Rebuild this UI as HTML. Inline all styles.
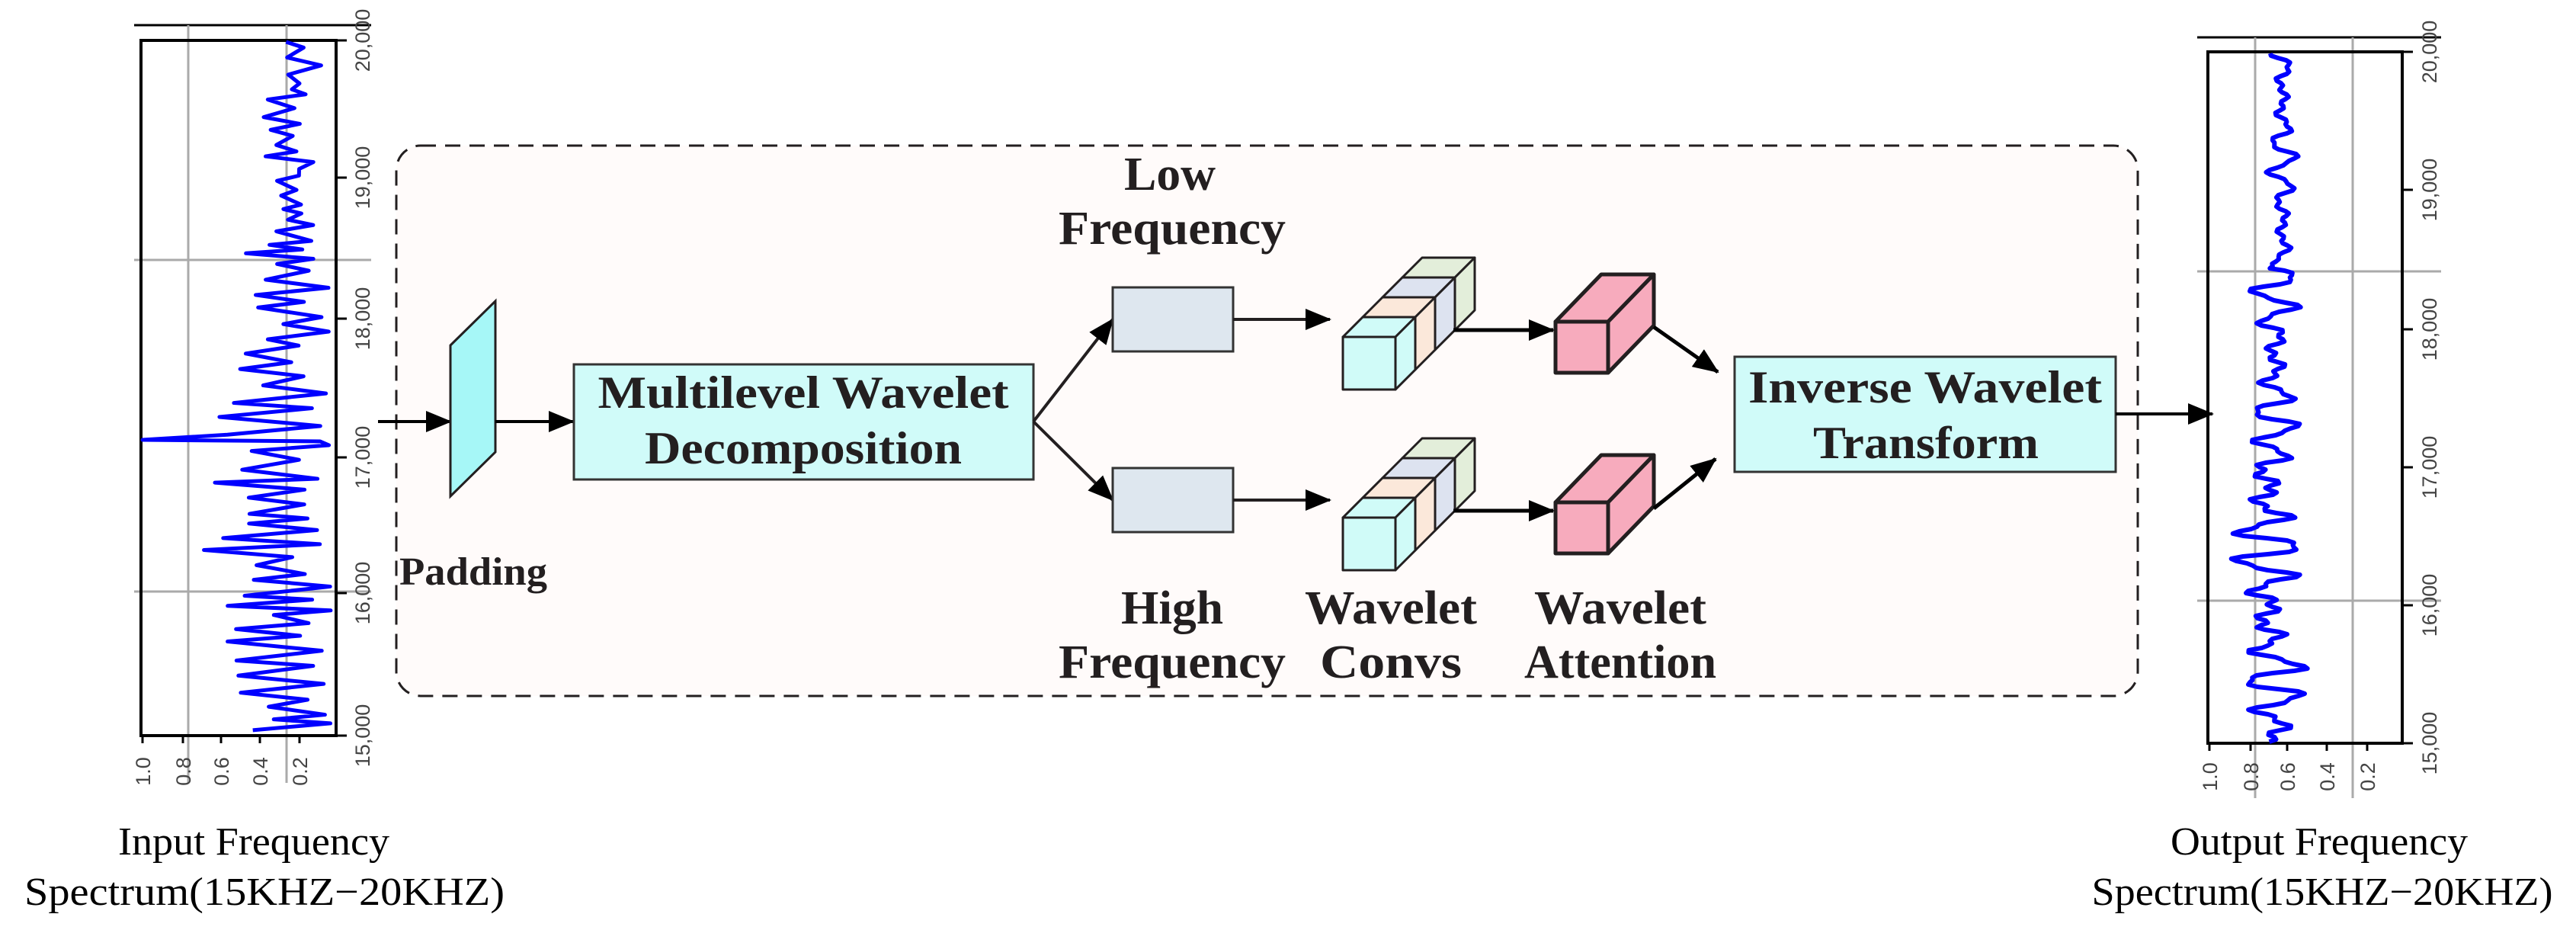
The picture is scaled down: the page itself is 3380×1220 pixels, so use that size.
<!DOCTYPE html>
<html><head><meta charset="utf-8"><style>
html,body{margin:0;padding:0;background:#fff;}
svg{display:block;}
.b{font-family:"Liberation Serif",serif;font-weight:bold;fill:#231f20;}
.r{font-family:"Liberation Serif",serif;fill:#000;}
.t{font-family:"Liberation Sans",sans-serif;fill:#444;font-size:27px;}
</style></head><body>
<svg id="s" width="3380" height="1220" viewBox="0 0 3380 1220" xmlns="http://www.w3.org/2000/svg">
<defs>
<marker id="ah" markerUnits="userSpaceOnUse" markerWidth="34" markerHeight="28" refX="32" refY="14" orient="auto"><path d="M0,0 L34,14 L0,28 Z" fill="#000"/></marker>
</defs>
<rect width="3380" height="1220" fill="#fff"/>
<rect x="520" y="191" width="2285" height="722" rx="32" fill="#fffbfa" stroke="#231f20" stroke-width="3" stroke-dasharray="20,12"/>

<g>
<line x1="176" y1="33" x2="487" y2="33" stroke="#000" stroke-width="3"/>
<line x1="247" y1="33" x2="247" y2="1027" stroke="#aaa" stroke-width="3"/>
<line x1="376" y1="33" x2="376" y2="1027" stroke="#aaa" stroke-width="3"/>
<line x1="176" y1="341" x2="487" y2="341" stroke="#aaa" stroke-width="3"/>
<line x1="176" y1="776" x2="487" y2="776" stroke="#aaa" stroke-width="3"/>
<rect x="185" y="53" width="256" height="912" fill="none" stroke="#000" stroke-width="4"/>
<g stroke="#000" stroke-width="3">
<line x1="441" y1="53" x2="455" y2="53"/><line x1="441" y1="233" x2="455" y2="233"/><line x1="441" y1="418" x2="455" y2="418"/><line x1="441" y1="600" x2="455" y2="600"/><line x1="441" y1="778" x2="455" y2="778"/><line x1="441" y1="965" x2="455" y2="965"/>
<line x1="187" y1="965" x2="187" y2="975"/><line x1="240" y1="965" x2="240" y2="975"/><line x1="290" y1="965" x2="290" y2="975"/><line x1="341" y1="965" x2="341" y2="975"/><line x1="393" y1="965" x2="393" y2="975"/>
</g>
<g class="t">
<text transform="translate(485,53) rotate(-90)" text-anchor="middle">20,000</text>
<text transform="translate(485,233) rotate(-90)" text-anchor="middle">19,000</text>
<text transform="translate(485,418) rotate(-90)" text-anchor="middle">18,000</text>
<text transform="translate(485,600) rotate(-90)" text-anchor="middle">17,000</text>
<text transform="translate(485,778) rotate(-90)" text-anchor="middle">16,000</text>
<text transform="translate(485,965) rotate(-90)" text-anchor="middle">15,000</text>
<text transform="translate(197,1012) rotate(-90)" text-anchor="middle">1.0</text>
<text transform="translate(250,1012) rotate(-90)" text-anchor="middle">0.8</text>
<text transform="translate(300,1012) rotate(-90)" text-anchor="middle">0.6</text>
<text transform="translate(351,1012) rotate(-90)" text-anchor="middle">0.4</text>
<text transform="translate(403,1012) rotate(-90)" text-anchor="middle">0.2</text>
</g>
<polyline id="sigL" fill="none" stroke="#0000ff" stroke-width="5" stroke-linejoin="round"/>
</g>
<text class="r" x="333" y="1121" font-size="52" text-anchor="middle" textLength="356" lengthAdjust="spacingAndGlyphs">Input Frequency</text>
<text class="r" x="347" y="1187" font-size="52" text-anchor="middle" textLength="630" lengthAdjust="spacingAndGlyphs">Spectrum(15KHZ−20KHZ)</text>

<g>
<line x1="2883" y1="49" x2="3203" y2="49" stroke="#000" stroke-width="3"/>
<line x1="2959" y1="49" x2="2959" y2="1047" stroke="#aaa" stroke-width="3"/>
<line x1="3087" y1="49" x2="3087" y2="1047" stroke="#aaa" stroke-width="3"/>
<line x1="2883" y1="356" x2="3203" y2="356" stroke="#aaa" stroke-width="3"/>
<line x1="2883" y1="788" x2="3203" y2="788" stroke="#aaa" stroke-width="3"/>
<rect x="2897" y="68" width="255" height="907" fill="none" stroke="#000" stroke-width="4"/>
<g stroke="#000" stroke-width="3">
<line x1="3152" y1="68" x2="3166" y2="68"/><line x1="3152" y1="249" x2="3166" y2="249"/><line x1="3152" y1="432" x2="3166" y2="432"/><line x1="3152" y1="613" x2="3166" y2="613"/><line x1="3152" y1="794" x2="3166" y2="794"/><line x1="3152" y1="975" x2="3166" y2="975"/>
<line x1="2899" y1="975" x2="2899" y2="985"/><line x1="2953" y1="975" x2="2953" y2="985"/><line x1="3001" y1="975" x2="3001" y2="985"/><line x1="3053" y1="975" x2="3053" y2="985"/><line x1="3106" y1="975" x2="3106" y2="985"/>
</g>
<g class="t">
<text transform="translate(3197,68) rotate(-90)" text-anchor="middle">20,000</text>
<text transform="translate(3197,249) rotate(-90)" text-anchor="middle">19,000</text>
<text transform="translate(3197,432) rotate(-90)" text-anchor="middle">18,000</text>
<text transform="translate(3197,613) rotate(-90)" text-anchor="middle">17,000</text>
<text transform="translate(3197,794) rotate(-90)" text-anchor="middle">16,000</text>
<text transform="translate(3197,975) rotate(-90)" text-anchor="middle">15,000</text>
<text transform="translate(2909,1019) rotate(-90)" text-anchor="middle">1.0</text>
<text transform="translate(2963,1019) rotate(-90)" text-anchor="middle">0.8</text>
<text transform="translate(3011,1019) rotate(-90)" text-anchor="middle">0.6</text>
<text transform="translate(3063,1019) rotate(-90)" text-anchor="middle">0.4</text>
<text transform="translate(3116,1019) rotate(-90)" text-anchor="middle">0.2</text>
</g>
<polyline id="sigR" fill="none" stroke="#0000ff" stroke-width="6" stroke-linejoin="round"/>
</g>
<text class="r" x="3043" y="1121" font-size="52" text-anchor="middle" textLength="390" lengthAdjust="spacingAndGlyphs">Output Frequency</text>
<text class="r" x="3047" y="1187" font-size="52" text-anchor="middle" textLength="605" lengthAdjust="spacingAndGlyphs">Spectrum(15KHZ−20KHZ)</text>

<line x1="496" y1="553" x2="591" y2="553" stroke="#000" stroke-width="4" marker-end="url(#ah)"/>
<polygon points="591,453 650,395 650,593 591,651" fill="#a6f7f7" stroke="#231f20" stroke-width="3"/>
<line x1="650" y1="553" x2="752" y2="553" stroke="#000" stroke-width="4" marker-end="url(#ah)"/>
<text class="b" x="524" y="767" font-size="52" textLength="194" lengthAdjust="spacingAndGlyphs">Padding</text>

<rect x="753" y="478" width="603" height="151" fill="#d0fbf9" stroke="#333" stroke-width="3"/>
<text class="b" x="1054" y="535" font-size="60" text-anchor="middle" textLength="539" lengthAdjust="spacingAndGlyphs">Multilevel Wavelet</text>
<text class="b" x="1054" y="608" font-size="60" text-anchor="middle" textLength="416" lengthAdjust="spacingAndGlyphs">Decomposition</text>

<line x1="1356" y1="553" x2="1460" y2="419" stroke="#231f20" stroke-width="4" marker-end="url(#ah)"/>
<line x1="1356" y1="553" x2="1460" y2="656" stroke="#231f20" stroke-width="4" marker-end="url(#ah)"/>
<rect x="1460" y="377" width="158" height="84" fill="#dee7ef" stroke="#333" stroke-width="3"/>
<rect x="1460" y="614" width="158" height="84" fill="#dee7ef" stroke="#333" stroke-width="3"/>
<text class="b" x="1535" y="249" font-size="62" text-anchor="middle" textLength="120" lengthAdjust="spacingAndGlyphs">Low</text>
<text class="b" x="1538" y="320" font-size="62" text-anchor="middle" textLength="298" lengthAdjust="spacingAndGlyphs">Frequency</text>
<text class="b" x="1538" y="818" font-size="62" text-anchor="middle" textLength="134" lengthAdjust="spacingAndGlyphs">High</text>
<text class="b" x="1538" y="889" font-size="62" text-anchor="middle" textLength="298" lengthAdjust="spacingAndGlyphs">Frequency</text>

<line x1="1618" y1="419" x2="1745" y2="419" stroke="#231f20" stroke-width="4" marker-end="url(#ah)"/>
<line x1="1618" y1="656" x2="1745" y2="656" stroke="#231f20" stroke-width="4" marker-end="url(#ah)"/>

<g id="stacks"></g>

<line x1="1907" y1="433" x2="2038" y2="433" stroke="#000" stroke-width="5" marker-end="url(#ah)"/>
<line x1="1907" y1="670" x2="2038" y2="670" stroke="#000" stroke-width="5" marker-end="url(#ah)"/>
<line x1="2170" y1="429" x2="2254" y2="488" stroke="#000" stroke-width="5" marker-end="url(#ah)"/>
<line x1="2170" y1="667" x2="2251" y2="602" stroke="#000" stroke-width="5" marker-end="url(#ah)"/>

<text class="b" x="1825" y="818" font-size="62" text-anchor="middle" textLength="226" lengthAdjust="spacingAndGlyphs">Wavelet</text>
<text class="b" x="1825" y="889" font-size="62" text-anchor="middle" textLength="186" lengthAdjust="spacingAndGlyphs">Convs</text>
<text class="b" x="2126" y="818" font-size="62" text-anchor="middle" textLength="226" lengthAdjust="spacingAndGlyphs">Wavelet</text>
<text class="b" x="2126" y="889" font-size="62" text-anchor="middle" textLength="252" lengthAdjust="spacingAndGlyphs">Attention</text>

<rect x="2276" y="468" width="500" height="151" fill="#d0fbf9" stroke="#333" stroke-width="3"/>
<text class="b" x="2526" y="528" font-size="60" text-anchor="middle" textLength="464" lengthAdjust="spacingAndGlyphs">Inverse Wavelet</text>
<text class="b" x="2527" y="601" font-size="60" text-anchor="middle" textLength="296" lengthAdjust="spacingAndGlyphs">Transform</text>
<line x1="2776" y1="543" x2="2903" y2="543" stroke="#000" stroke-width="4" marker-end="url(#ah)"/>
</svg>
<script>
(function(){
var NS="http://www.w3.org/2000/svg";
var g=document.getElementById('stacks');
function poly(pts,fill,sw){var p=document.createElementNS(NS,'polygon');p.setAttribute('points',pts.map(function(a){return a[0]+','+a[1]}).join(' '));p.setAttribute('fill',fill);p.setAttribute('stroke','#231f20');p.setAttribute('stroke-width',sw);p.setAttribute('stroke-linejoin','round');g.appendChild(p);}
function stack(x0,y0){var w=69,h=69,d=26,cols=['#d0fbf8','#fbe8da','#dde3f0','#e3eeda'];
for(var i=3;i>=0;i--){var a=i*d,b=(i+1)*d;
poly([[x0+a,y0-a],[x0+w+a,y0-a],[x0+w+b,y0-b],[x0+b,y0-b]],cols[i],3);
poly([[x0+w+a,y0-a],[x0+w+b,y0-b],[x0+w+b,y0+h-b],[x0+w+a,y0+h-a]],cols[i],3);}
poly([[x0,y0],[x0+w,y0],[x0+w,y0+h],[x0,y0+h]],cols[0],3);}
function pink(x0,y0){var w=69,h=67,dx=60,dy=62,c='#f7abbd';
poly([[x0,y0],[x0+w,y0],[x0+w+dx,y0-dy],[x0+dx,y0-dy]],c,5);
poly([[x0+w,y0],[x0+w+dx,y0-dy],[x0+w+dx,y0+h-dy],[x0+w,y0+h]],c,5);
poly([[x0,y0],[x0+w,y0],[x0+w,y0+h],[x0,y0+h]],c,5);}
stack(1762,442);stack(1762,679);pink(2041,422);pink(2041,659);
var s=12345;function rnd(){s=(s*1103515245+12345)%2147483648;return s/2147483648;}
var pts=[],y=55,side=0;
while(y<962){var lo,hi;
if(y<330){lo=340;hi=430}else if(y<540){lo=300;hi=432}else if(y<740){lo=255;hi=432}else{lo=290;hi=440}
var x=side?hi-rnd()*50:lo+rnd()*(hi-lo)*0.6;
pts.push([x.toFixed(1),y]);side=1-side;y+=5+rnd()*8;
if(y>575&&y<582){pts.push([187,577]);pts.push([420,579]);y=584;}}
document.getElementById('sigL').setAttribute('points',pts.map(function(a){return a.join(',')}).join(' '));
pts=[];
for(y=70;y<=975;y+=3){var amp,c;
if(y<350){amp=18;c=2995}else if(y<600){amp=30;c=2985}else if(y<850){amp=45;c=2975}else{amp=40;c=2985}
var v=Math.sin(y*0.16)*amp*(0.6+0.4*Math.sin(y*0.037))+Math.sin(y*0.41)*amp*0.25;
pts.push([(c+v).toFixed(1),y]);}
document.getElementById('sigR').setAttribute('points',pts.map(function(a){return a.join(',')}).join(' '));
})();
</script>
</body></html>
